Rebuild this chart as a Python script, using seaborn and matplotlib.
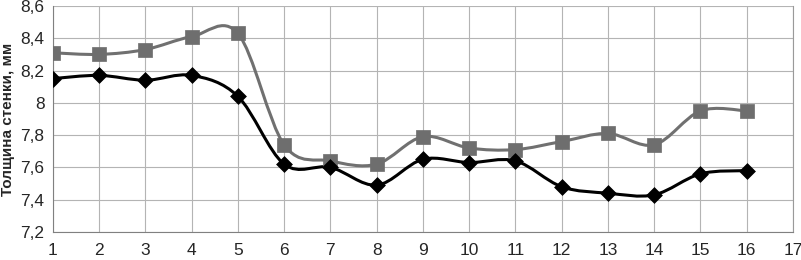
import numpy as np
import pandas as pd
import seaborn as sns
import matplotlib
matplotlib.use('Agg')
import matplotlib.pyplot as plt
from matplotlib.path import Path
from matplotlib.patches import PathPatch
from matplotlib.ticker import FuncFormatter

sns.set_style('white')
plt.rcParams['font.family'] = ['Liberation Sans', 'DejaVu Sans']

points = list(range(1, 17))
upper = [8.31, 8.30, 8.33, 8.41, 8.43, 7.74, 7.64, 7.62, 7.79, 7.72, 7.71, 7.76, 7.81, 7.74, 7.95, 7.95]
lower = [8.15, 8.17, 8.14, 8.17, 8.04, 7.62, 7.60, 7.49, 7.65, 7.63, 7.64, 7.48, 7.44, 7.43, 7.56, 7.58]
yticks = [7.2, 7.4, 7.6, 7.8, 8.0, 8.2, 8.4, 8.6]
xticks = list(range(1, 18))


def smooth_path(x, y):
    # excel-like smoothed line: cubic bezier through the points
    x = np.asarray(x, float)
    y = np.asarray(y, float)
    n = len(x)
    verts = [(x[0], y[0])]
    codes = [Path.MOVETO]
    for i in range(n - 1):
        p0 = np.array([x[max(i - 1, 0)], y[max(i - 1, 0)]])
        p1 = np.array([x[i], y[i]])
        p2 = np.array([x[i + 1], y[i + 1]])
        p3 = np.array([x[min(i + 2, n - 1)], y[min(i + 2, n - 1)]])
        c1 = p1 + (p2 - p0) / 6
        c2 = p2 - (p3 - p1) / 6
        verts += [tuple(c1), tuple(c2), tuple(p2)]
        codes += [Path.CURVE4] * 3
    return Path(verts, codes)


df = pd.DataFrame({'x': points * 2,
                   'y': upper + lower,
                   'series': ['upper'] * len(points) + ['lower'] * len(points)})

fig = plt.figure(figsize=(8.01, 2.6), dpi=100)
ax = fig.add_axes([0.066, 0.108, 0.924, 0.869])

ax.add_patch(PathPatch(smooth_path(points, upper), fill=False, edgecolor='#707070', lw=2.2, zorder=3))
ax.add_patch(PathPatch(smooth_path(points, lower), fill=False, edgecolor='#000000', lw=2.2, zorder=3))

sns.scatterplot(data=df[df.series == 'upper'], x='x', y='y', marker='s', s=100,
                color='#6e6e6e', edgecolor='#6e6e6e', linewidth=0.5, ax=ax, zorder=4, legend=False)
sns.scatterplot(data=df[df.series == 'lower'], x='x', y='y', marker='D', s=65,
                color='#000000', edgecolor='#000000', linewidth=0.5, ax=ax, zorder=4, legend=False)

ax.set_xlim(1, 17)
ax.set_ylim(7.2, 8.6)
ax.set_xticks(xticks)
ax.set_yticks(yticks)
ax.yaxis.set_major_formatter(FuncFormatter(lambda v, p: ('%g' % round(v, 1)).replace('.', ',')))
ax.grid(True, color='#b4b4b4', lw=0.8)
ax.set_axisbelow(True)
ax.spines['top'].set_visible(False)
ax.spines['right'].set_color('#9a9a9a')
ax.spines['left'].set_color('#808080')
ax.spines['bottom'].set_color('#808080')
ax.tick_params(axis='both', length=3, color='#808080', labelsize=12.5)
ax.tick_params(axis='x', pad=5)
ax.tick_params(axis='y', pad=3)
ax.set_xlabel('')
ax.set_ylabel('Толщина стенки, мм', fontsize=11, fontweight='bold')
ax.yaxis.set_label_coords(-0.051, 0.5)

fig.savefig('out.png', dpi=100)
